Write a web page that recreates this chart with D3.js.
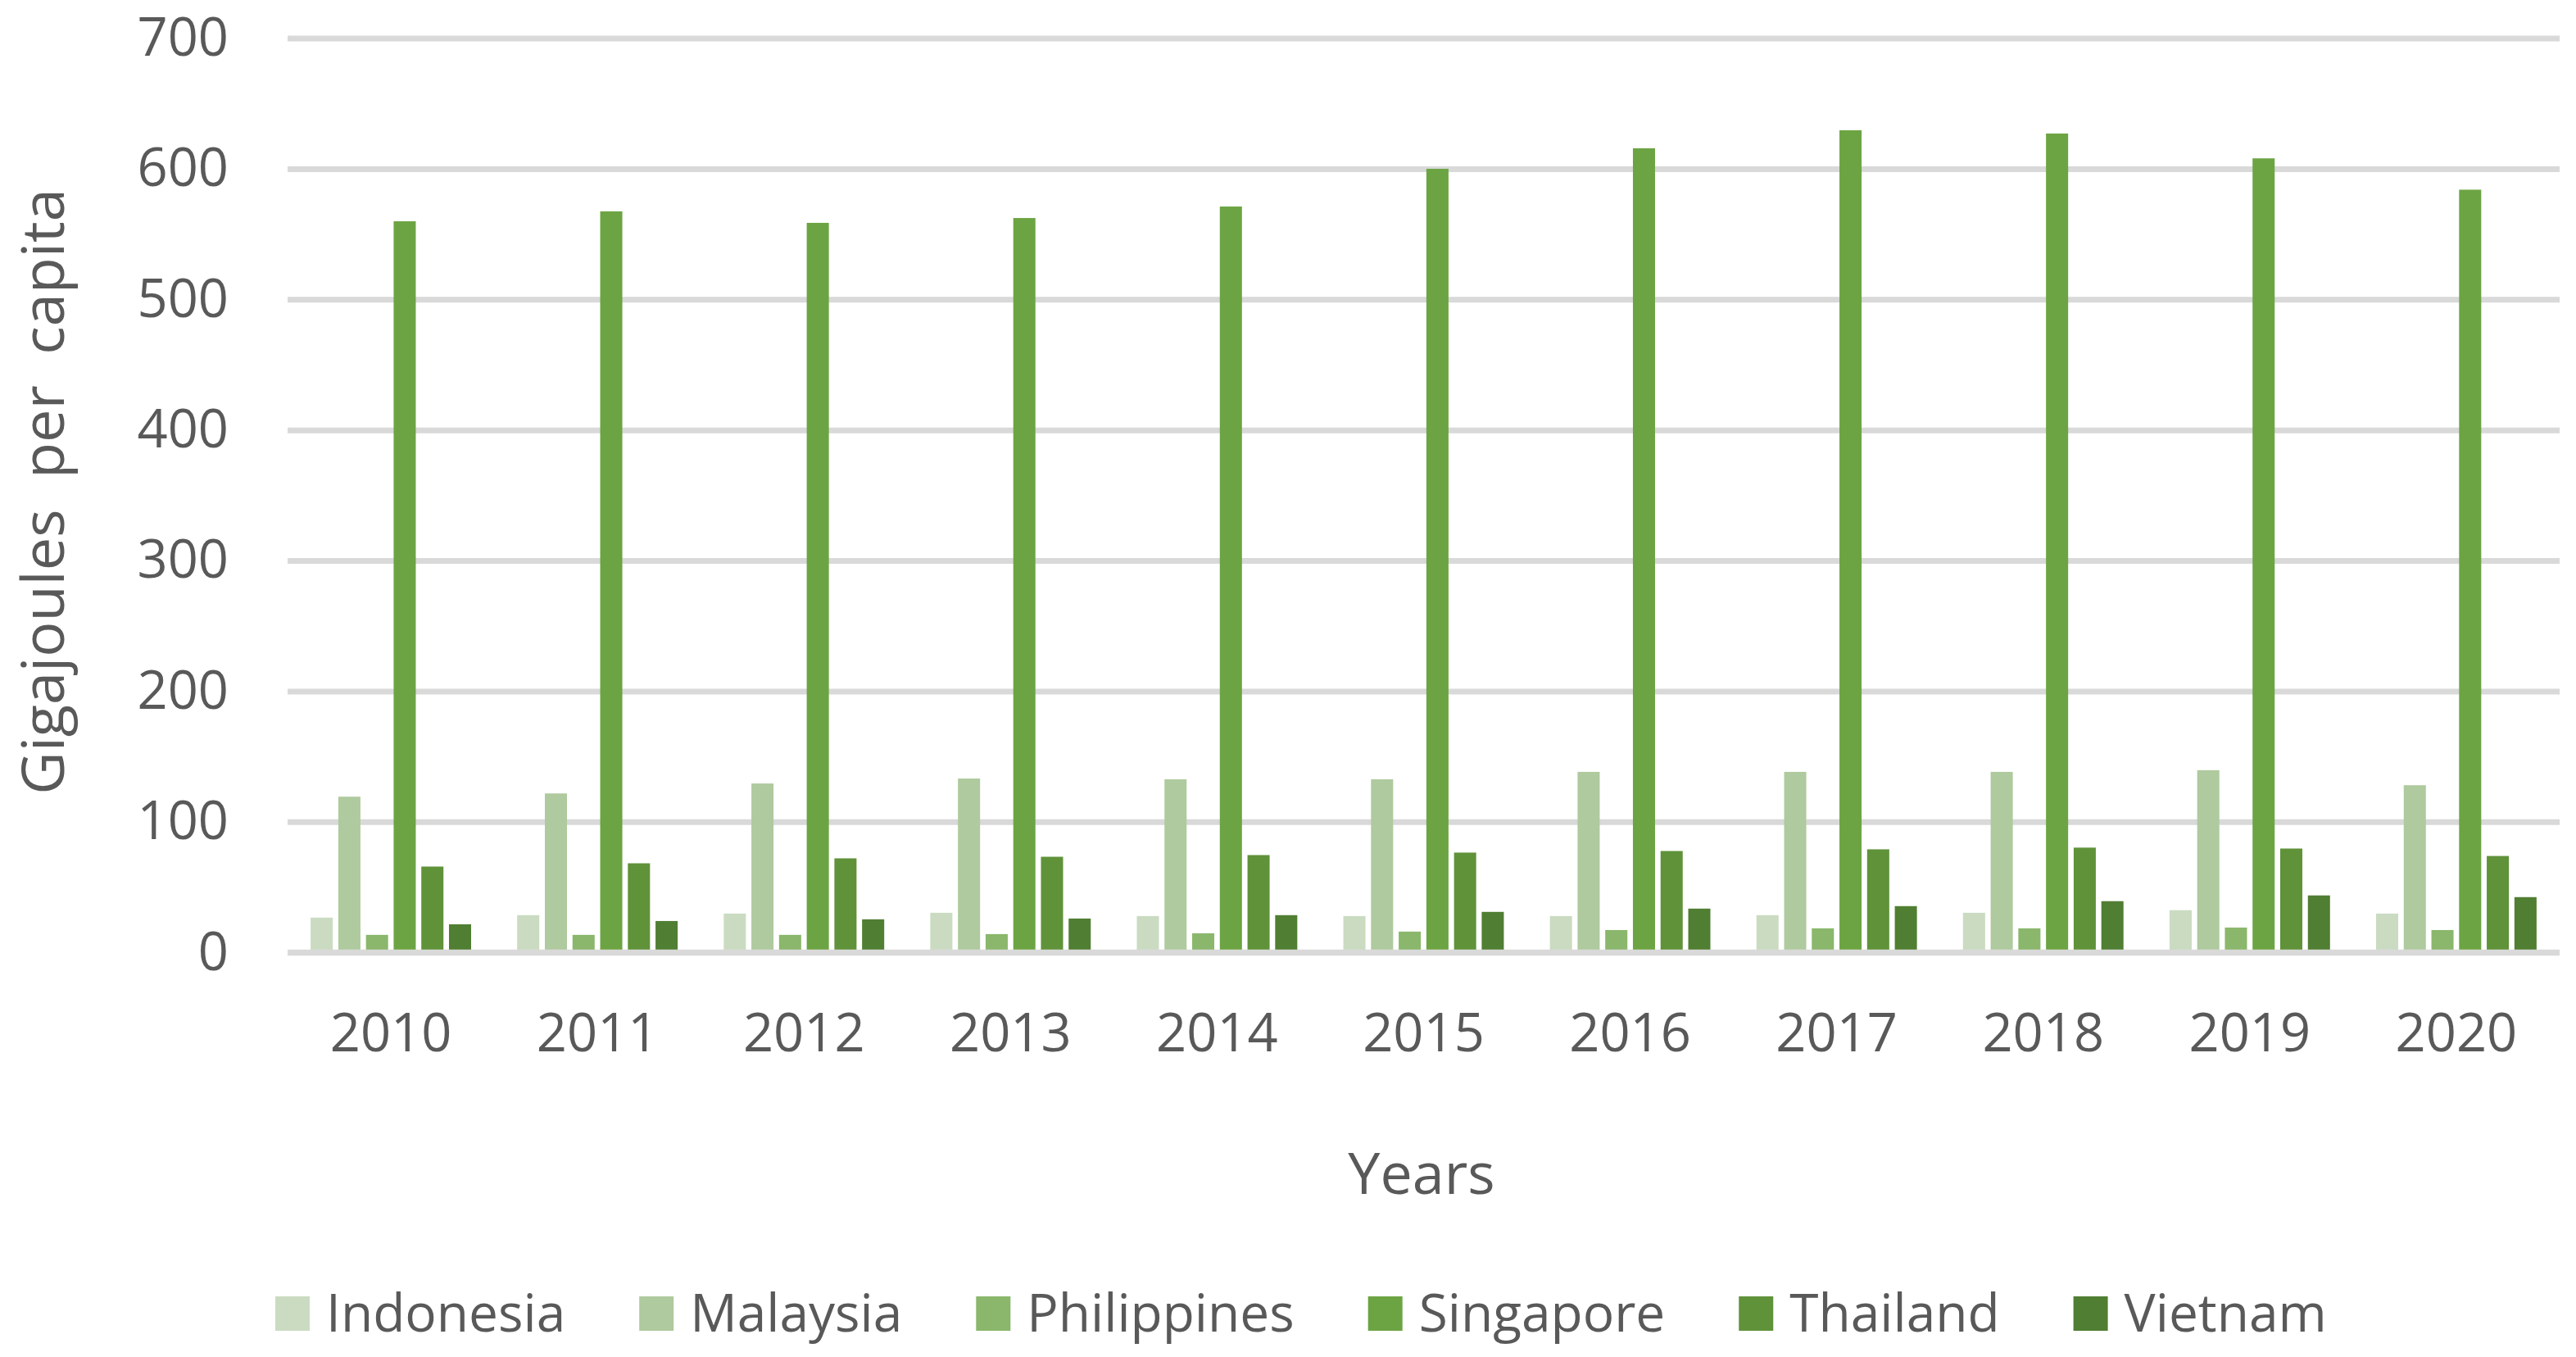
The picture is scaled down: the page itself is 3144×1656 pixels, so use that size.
<!DOCTYPE html>
<html>
<head>
<meta charset="utf-8">
<script src="https://cdn.jsdelivr.net/npm/d3@7"></script>
<style>
  body { margin: 0; background: #fff; }
  text { font-family: "Open Sans", sans-serif; fill: #595959; }
</style>
</head>
<body>
<script>
const years = ["2010", "2011", "2012", "2013", "2014", "2015", "2016", "2017", "2018", "2019", "2020"];
const countries = ["Indonesia", "Malaysia", "Philippines", "Singapore", "Thailand", "Vietnam"];
const colors = ["#cadbc1", "#afca9e", "#8ab76c", "#6ca443", "#60923a", "#507e32"];

const indonesia   = [26.6, 28.5, 29.7, 30.3, 27.8, 27.8, 27.8, 28.5, 30.3, 32.3, 29.7];
const malaysia    = [119.2, 121.7, 129.3, 133.1, 132.5, 132.5, 138.2, 138.2, 138.2, 139.5, 128.0];
const philippines = [13.4, 13.4, 13.4, 14.0, 14.6, 15.9, 17.1, 18.4, 18.4, 19.0, 17.1];
const singapore   = [559.8, 567.4, 558.6, 562.3, 571.1, 600.0, 615.7, 629.5, 627.0, 608.0, 584.0];
const thailand    = [65.7, 68.2, 72.0, 73.2, 74.5, 76.4, 77.6, 78.9, 80.2, 79.5, 73.8];
const vietnam     = [21.5, 24.0, 25.3, 25.9, 28.5, 31.0, 33.5, 35.4, 39.2, 43.6, 42.3];

const yTicks = [0, 100, 200, 300, 400, 500, 600, 700];

const series = [indonesia, malaysia, philippines, singapore, thailand, vietnam];
const rows = years.map((yr, i) => ({
  year: yr,
  values: countries.map((c, j) => ({ country: c, value: series[j][i] }))
}));

const width = 3144;
const height = 1656;
const left = 351, right = 3124;

const svg = d3.select('body')
  .append('svg')
  .attr('width', width)
  .attr('height', height);

const x0 = d3.scaleBand()
  .domain(years)
  .range([left, right])
  .paddingInner(0.223)
  .paddingOuter(0.1116);

const x1 = d3.scaleBand()
  .domain(countries)
  .range([0, x0.bandwidth()])
  .paddingInner(0.2);

const color = d3.scaleOrdinal().domain(countries).range(colors);

const y = d3.scaleLinear()
  .domain([0, 700])
  .range([1162.2, 46.6]);

// gridlines + y labels
const yAxis = svg.append('g')
  .attr('transform', `translate(${left},0)`)
  .call(d3.axisLeft(y)
    .tickValues(yTicks)
    .tickSize(-(right - left))
    .tickPadding(72));
yAxis.select('.domain').remove();
yAxis.selectAll('.tick line')
  .attr('stroke', '#d9d9d9')
  .attr('stroke-width', 7);
yAxis.selectAll('.tick text')
  .style('font-size', '65px')
  .style('font-family', '"Open Sans", sans-serif')
  .attr('fill', '#595959');

// bars
svg.append('g')
  .selectAll('g')
  .data(rows)
  .join('g')
  .attr('transform', d => `translate(${x0(d.year)},0)`)
  .selectAll('rect')
  .data(d => d.values)
  .join('rect')
  .attr('x', d => x1(d.country))
  .attr('y', d => y(d.value))
  .attr('width', x1.bandwidth())
  .attr('height', d => y(0) - y(d.value))
  .attr('fill', d => color(d.country));

// zero line drawn over the bars
svg.append('line')
  .attr('x1', left)
  .attr('x2', right)
  .attr('y1', y(0))
  .attr('y2', y(0))
  .attr('stroke', '#d9d9d9')
  .attr('stroke-width', 7);

// x axis labels
const xAxis = svg.append('g')
  .attr('transform', `translate(0,${y(0)})`)
  .call(d3.axisBottom(x0).tickSize(0).tickPadding(75));
xAxis.select('.domain').remove();
xAxis.selectAll('.tick text')
  .style('font-size', '65px')
  .style('font-family', '"Open Sans", sans-serif')
  .attr('fill', '#595959');

// axis titles
svg.append('text')
  .attr('x', 1735)
  .attr('y', 1457)
  .attr('text-anchor', 'middle')
  .style('font-size', '70px')
  .text('Years');

svg.append('text')
  .attr('transform', 'translate(78,600) rotate(-90)')
  .attr('text-anchor', 'middle')
  .style('font-size', '72px')
  .style('white-space', 'pre')
  .text('Gigajoules  per  capita');

// legend
const legend = svg.append('g');
let cursor = 336;
countries.forEach((c, i) => {
  legend.append('rect')
    .attr('x', cursor)
    .attr('y', 1582)
    .attr('width', 42)
    .attr('height', 42)
    .attr('fill', colors[i]);
  const t = legend.append('text')
    .attr('x', cursor + 62)
    .attr('y', 1625)
    .style('font-size', '64px')
    .text(c);
  cursor += 62 + t.node().getComputedTextLength() + 90;
});
</script>
</body>
</html>
